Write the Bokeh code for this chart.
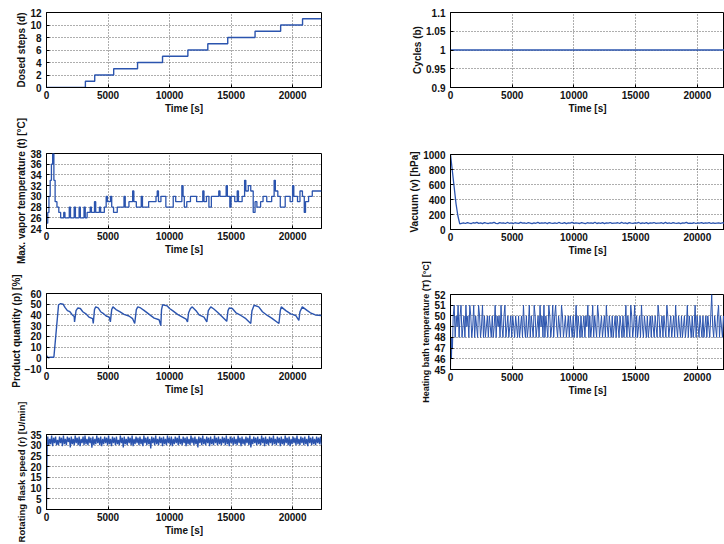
import numpy as np
from bokeh.plotting import figure
from bokeh.layouts import row, column
from bokeh.models import FixedTicker, Range1d, CustomJSTickFormatter
from bokeh.embed import file_html
from bokeh.resources import INLINE

FONT = "Liberation Sans"
BLUE = "#2b54ae"

x_ticks = [0, 5000, 10000, 15000, 20000]
x_end_left = 22350
x_end_right = 22200

# ---- Dosed steps (d)
dose_t = [0, 3160, 3920, 5460, 7400, 9430, 11490, 13110, 14730, 16950, 19030, 20810, 22350]
dose_v = [0, 1, 2, 3, 4, 5, 6, 7, 8, 9, 10, 11, 11]

# ---- Max. vapor temperature (t) change points
vap_t = [0, 100, 200, 300, 400, 500, 600, 700, 850, 1000, 1150, 1400, 1500, 1850, 1950, 2250, 2350, 2650, 2750,
         3050, 3150, 3300, 3550, 3650, 3900, 4000, 4300, 4400, 4700, 4850, 4950, 5200, 5300,
         5450, 5750, 6300, 6400, 6700, 7000, 7100, 7300, 7700, 7800, 8300, 8900, 9000, 9100,
         9300, 9700, 10300, 10500, 11000, 11100, 11200, 11400, 11700, 12200, 12700, 12800,
         13000, 13200, 13400, 14000, 14100, 14600, 14700, 14900, 15000, 15300, 15500, 15600,
         15900, 16100, 16200, 16400, 16600, 16800, 16950, 17100, 17400, 17600, 17900, 18300,
         18500, 18600, 18800, 19000, 19400, 19800, 20000, 20100, 20400, 20600, 20800, 20950,
         21050, 21300, 21600, 22350]
vap_v = [25, 27, 30, 33, 36, 38, 33, 29, 28, 27, 26, 27, 26, 28, 26, 28, 26, 28, 26,
         28, 26, 27, 28, 27, 29, 27, 28, 27, 28, 30, 29, 30, 28,
         27, 28, 30, 28, 29, 31, 29, 28, 30, 28, 29, 30, 31, 29,
         30, 28, 30, 29, 32, 30, 28, 29, 30, 29, 31, 29,
         30, 28, 30, 31, 30, 32, 30, 28, 30, 29, 31, 29,
         30, 33, 31, 32, 31, 27, 29, 28, 29, 30, 29, 30,
         33, 31, 30, 28, 30, 29, 32, 30, 29, 31, 30, 27,
         29, 30, 31, 31]

# ---- Product quantity (p) [%]
prod_t = [0, 150, 300, 600, 980, 1150, 1350, 1500, 1700, 1900, 2100, 2250, 2280, 2400, 2550,
          2750, 2950, 3200, 3450, 3750, 3800, 3900, 4000, 4200, 4400, 4600, 4850, 5100, 5190,
          5300, 5400, 5650, 5950, 6300, 6700, 7000, 7170, 7300, 7420, 7650, 7950, 8350, 8750,
          9150, 9290, 9350, 9440, 9800, 10000, 10250, 10650, 11050, 11350, 11460, 11550, 11700,
          11850, 12150, 12400, 12800, 13030, 13150, 13350, 13600, 13900, 14300, 14650, 14750,
          14850, 15100, 15400, 15800, 16200, 16600, 16700, 16870, 17250, 17550, 17950, 18300,
          18890, 19000, 19080, 19450, 19850, 20250, 20510, 20600, 20790, 21200, 21450, 21850, 22350]
prod_v = [2, 0, 0.5, 0.5, 49.5, 50.5, 50, 47, 44, 43, 40, 38.5, 33.5, 44, 46.5,
          46, 43, 41, 38, 36.5, 32, 45, 47.5, 46.5, 43, 41.5, 39, 38, 33.5,
          45, 47.5, 45, 43, 40.5, 39, 36.5, 32, 45, 47.5, 46.5, 44, 40.5, 37,
          35.5, 30, 45, 49.5, 48.5, 46, 44, 40.5, 38, 36, 33.5, 42, 46,
          47.5, 44, 40, 38, 33.5, 44, 47.5, 45.5, 42.5, 38, 34, 44,
          46.5, 46, 42, 39.5, 36.5, 32, 44, 49, 47.5, 43, 39.5, 37,
          32, 44, 47.5, 44, 41, 39.5, 35, 43, 47.5, 44, 42, 40, 39.5]

# ---- Rotating flask speed (r) [U/min]
rot_start_t = [0, 60]
rot_start_v = [0, 31]
rot_band_v = [
    34, 30, 33, 30.5, 34.5, 29.5, 33.5, 31, 34, 30, 32.5, 30, 34, 31, 33.5, 29.5, 34.5, 30.5, 33, 30,
    34, 31.5, 33.5, 29, 34, 30.5, 33, 30, 34.5, 31, 33.5, 30, 34, 29.5, 33, 31, 34, 30, 34.5, 30.5,
    33, 30, 34, 31, 33.5, 28.8, 34, 30, 33, 30.5, 34.5, 31, 33.5, 30, 34, 29.5, 33, 30.5, 34, 31,
    33.5, 30, 34.5, 30.5, 33, 29.5, 34, 31, 33.5, 30, 34, 30.5, 32.5, 30, 34.5, 31, 33.5, 29, 34, 30.5,
    33, 30, 34, 31, 33.5, 30, 34.5, 29.5, 33, 30.5, 34, 31, 33.5, 30, 34, 30.5, 33, 29.5, 34.5, 31,
    33.5, 30, 34, 30.5, 33, 28.5, 34, 31, 33.5, 30, 34.5, 30.5, 33, 30, 34, 31, 33.5, 29.5, 34, 30.5,
    33, 30, 34.5, 31, 33.5, 30, 34, 29.5, 33, 30.5, 34, 31, 33.5, 30, 34.5, 30.5, 33, 30, 34, 31,
    33.5, 29.5, 34, 30.5, 33, 30, 34.5, 31, 33.5, 30, 34, 30.5, 33, 29, 34, 31, 33.5, 30, 34.5, 30.5,
    33, 30, 34, 31, 33.5, 29.5, 34, 30.5, 33, 30, 34.5, 31, 33.5, 30, 34, 30.5, 33, 30, 34, 31,
    33.5, 30, 34.5, 30.5, 33, 29.5, 34, 31, 33.5, 30, 34, 30.5, 33, 30, 34.5, 31, 33.5, 29.5, 34, 30.5,
    33, 30, 34, 31, 33.5, 30, 34.5, 29, 33, 30.5, 34, 31, 33.5, 30, 34, 30.5, 33, 30, 34.5, 31,
    33.5, 29.5, 34, 30.5, 33, 30, 34, 31, 33.5, 30, 34.5, 30.5, 33, 30, 34, 31, 33.5, 29.5, 34, 30.5,
    33, 30, 34.5, 31, 33.5, 30, 34, 29.5, 33, 30.5, 34, 31, 33.5, 30, 34.5, 30.5, 33, 30, 34, 31,
    33.5, 30, 34, 30.5, 33, 29.5, 34.5, 31, 33.5, 30, 34, 30.5, 33, 30, 34, 31, 33.5, 30.5, 34, 30]

# ---- Cycles (b)
cyc_t = [0, 22350]
cyc_v = [1, 1]

# ---- Vacuum (v) [hPa]
vac_start_t = [0, 150, 300, 450, 600, 750]
vac_start_v = [1000, 780, 560, 340, 180, 75]
vac_band_v = [
    82, 88, 80, 92, 85, 79, 90, 84, 95, 81, 87, 78, 93, 86, 80, 89, 84, 96, 82, 79, 91, 85, 88, 80,
    94, 83, 87, 79, 90, 86, 81, 95, 84, 88, 80, 92, 85, 78, 89, 83, 96, 81, 87, 84, 90, 79, 93, 86,
    82, 88, 80, 94, 85, 83, 91, 79, 87, 84, 95, 81, 89, 86, 80, 92, 84, 78, 90, 85, 88, 82, 96, 80,
    87, 83, 91, 79, 89, 85, 93, 81, 86, 84, 90, 80, 95, 83, 88, 79, 92, 85, 82, 89, 84, 94, 80, 87,
    83, 91, 78, 88, 85, 93, 81, 86, 84, 90, 79, 95, 82, 88, 80, 92, 85, 83, 89, 79, 87, 84, 94, 81,
    86, 83, 90, 80, 88, 85, 92, 82, 87, 84, 91, 80, 89, 83, 86, 88, 81, 90, 84, 87]

# ---- Heating bath temperature (T) [°C]
heat_start_t = [0, 40, 80, 120, 160, 220]
heat_start_v = [45, 48, 46, 48, 47, 50]
heat_band_v = [
    51, 48, 50, 49, 51, 48, 50, 51, 48, 49, 50, 48, 51, 49, 50, 48, 51, 50, 48, 49,
    51, 48, 50, 49, 48, 51, 50, 48, 49, 51, 48, 50, 48, 49, 50, 48, 50, 49, 48, 50,
    48, 49, 51, 48, 50, 49, 50, 48, 51, 49, 48, 50, 51, 48, 49, 50, 48, 49, 50, 48,
    50, 49, 48, 50, 49, 48, 50, 48, 49, 50, 48, 51, 49, 48, 50, 48, 49, 51, 48, 50,
    49, 48, 51, 50, 48, 49, 50, 48, 51, 49, 50, 48, 51, 48, 50, 49, 48, 51, 50, 48,
    49, 51, 48, 50, 51, 49, 48, 50, 49, 48, 51, 50, 48, 49, 50, 48, 49, 50, 48, 50,
    49, 48, 50, 48, 49, 51, 48, 50, 49, 48, 50, 48, 49, 50, 48, 50, 49, 51, 48, 50,
    48, 49, 51, 48, 50, 49, 48, 51, 50, 48, 49, 50, 48, 49, 50, 48, 51, 49, 48, 50,
    49, 48, 50, 48, 49, 50, 48, 50, 49, 48, 50, 49, 48, 50, 48, 49, 51, 48, 50, 49,
    48, 51, 50, 48, 49, 51, 48, 50, 48, 49, 50, 48, 51, 49, 48, 50, 49, 48, 50, 48,
    49, 50, 48, 50, 49, 48, 50, 49, 48, 51, 50, 48, 49, 50, 48, 50, 49, 48, 51, 50,
    48, 49, 50, 48, 49, 50, 48, 51, 49, 48, 50, 49, 48, 50, 48, 49, 50, 48, 49, 51,
    48, 50, 49, 48, 50, 48, 49, 51, 48, 50, 49, 48, 50, 49, 48, 50, 48, 49, 50, 48,
    50, 49, 48, 50, 52, 49, 48, 50, 49, 48, 50, 51, 48, 50, 49, 48, 50, 49, 50, 48]

# sample times of the logged band sections (regular logging interval)
rot_t = list(rot_start_t) + list(np.linspace(100, 22350, len(rot_band_v)))
rot_v = rot_start_v + rot_band_v
vac_t = list(vac_start_t) + list(np.linspace(900, 22350, len(vac_band_v)))
vac_v = vac_start_v + vac_band_v
heat_t = list(heat_start_t) + list(np.linspace(300, 22350, len(heat_band_v)))
heat_v = heat_start_v + heat_band_v


def styled(ylabel, y0, y1, yticks, top, bottom, left, right, fw, x_end, ylabel_size="10px"):
    p = figure(frame_width=fw, frame_height=75,
               x_range=Range1d(0, x_end), y_range=Range1d(y0, y1),
               min_border_top=top, min_border_bottom=bottom,
               min_border_left=left, min_border_right=right,
               output_backend="svg", toolbar_location=None, tools="")
    p.background_fill_color = "white"
    p.border_fill_color = "white"
    p.outline_line_color = "black"
    p.outline_line_width = 1
    p.outline_line_alpha = 1
    p.xaxis.ticker = FixedTicker(ticks=x_ticks)
    p.yaxis.ticker = FixedTicker(ticks=yticks)
    p.xgrid.ticker = FixedTicker(ticks=x_ticks)
    p.ygrid.ticker = FixedTicker(ticks=yticks)
    for g in (p.xgrid, p.ygrid):
        g.grid_line_color = "black"
        g.grid_line_dash = "1 2"
        g.grid_line_width = 0.8
        g.grid_line_alpha = 0.8
    for ax in (p.xaxis, p.yaxis):
        ax.major_tick_in = 3
        ax.major_tick_out = 0
        ax.minor_tick_in = 0
        ax.minor_tick_out = 0
        ax.axis_line_color = "black"
        ax.major_tick_line_color = "black"
        ax.major_label_text_font = FONT
        ax.major_label_text_font_style = "bold"
        ax.major_label_text_font_size = "10px"
        ax.major_label_text_color = "#111111"
        ax.axis_label_text_font = FONT
        ax.axis_label_text_font_style = "bold"
        ax.axis_label_text_color = "#111111"
    p.xaxis.axis_label = "Time [s]"
    p.xaxis.axis_label_text_font_size = "10px"
    p.xaxis.major_label_standoff = 3
    p.xaxis.axis_label_standoff = 1
    p.yaxis.axis_label = ylabel
    p.yaxis.axis_label_text_font_size = ylabel_size
    p.yaxis.major_label_standoff = 5
    p.yaxis.axis_label_standoff = 0
    return p


LW, LR = 46, 69
RW, RR = 60, 0
FWL, FWR = 275, 274

p1 = styled("Dosed steps (d)", 0, 12, [0, 2, 4, 6, 8, 10, 12], 12, 30, LW, LR, FWL, x_end_left)
p1.step(dose_t, dose_v, mode="after", line_color=BLUE, line_width=1.4)

p2 = styled("Max. vapor temperature (t) [°C]", 24, 38, [24, 26, 28, 30, 32, 34, 36, 38],
            36, 36, LW, LR, FWL, x_end_left)
p2.step(vap_t, vap_v, mode="after", line_color=BLUE, line_width=1.3)

p3 = styled("Product quantity (p) [%]", -10, 60, [-10, 0, 10, 20, 30, 40, 50, 60],
            29, 29, LW, LR, FWL, x_end_left)
p3.line(prod_t, prod_v, line_color=BLUE, line_width=1.4)

p4 = styled("Rotating flask speed (r) [U/min]", 0, 35, [0, 5, 10, 15, 20, 25, 30, 35],
            37, 35, LW, LR, FWL, x_end_left, ylabel_size="9.5px")
p4.line(rot_t, rot_v, line_color=BLUE, line_width=1.3)

p5 = styled("Cycles (b)", 0.9, 1.1, [0.9, 0.95, 1.0, 1.05, 1.1], 12, 32, RW, RR, FWR, x_end_right)
p5.yaxis.formatter = CustomJSTickFormatter(code="return String(Math.round(tick*100)/100);")
p5.line(cyc_t, cyc_v, line_color=BLUE, line_width=1.4)

p6 = styled("Vacuum (v) [hPa]", 0, 1000, [0, 200, 400, 600, 800, 1000], 35, 31, RW, RR, FWR, x_end_right)
p6.line(vac_t, vac_v, line_color=BLUE, line_width=1.3)

p7 = styled("Heating bath temperature (T) [°C]", 45, 52, [45, 46, 47, 48, 49, 50, 51, 52],
            34, 40, RW, RR, FWR, x_end_right, ylabel_size="9px")
p7.line(heat_t, heat_v, line_color=BLUE, line_width=1.0)

layout = row(column(p1, p2, p3, p4), column(p5, p6, p7))
open("out.html", "w").write(file_html(layout, INLINE))
